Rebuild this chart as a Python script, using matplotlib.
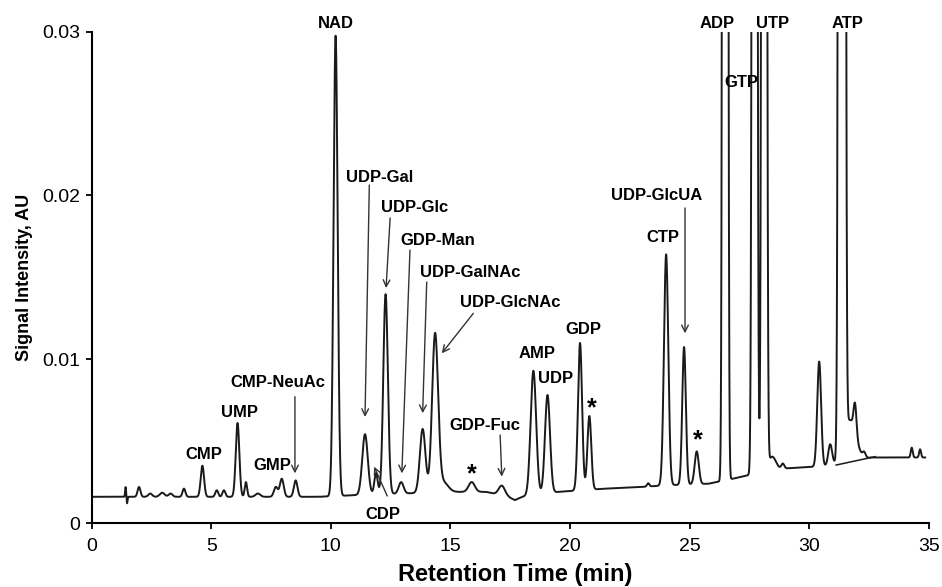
import numpy as np
import matplotlib
matplotlib.use("Agg")
import matplotlib.pyplot as plt

plt.rcParams['font.family'] = ['Liberation Sans', 'DejaVu Sans']

# retention time (min), height above baseline (AU), peak width sigma (min)
peak_time = [1.42, 1.48, 1.98, 2.45, 2.95, 3.30, 3.86, 4.63, 5.23, 5.53,
             6.10, 6.45, 6.95, 7.70, 7.95, 8.53,
             10.20, 11.43, 11.89, 12.29, 12.94, 13.84, 14.36, 14.70,
             15.89, 17.15, 18.47, 19.06, 20.42, 20.81,
             23.27, 24.02, 24.77, 25.30, 26.49, 27.72, 28.12, 28.45, 28.90,
             30.42, 30.88, 31.37, 31.70, 31.92, 32.30, 34.29, 34.64]
peak_height = [0.0006, -0.0004, 0.0006, 0.0002, 0.00025, 0.0002, 0.0005, 0.0019, 0.0004, 0.0004,
               0.0045, 0.0009, 0.0002, 0.0006, 0.0011, 0.0010,
               0.0281, 0.0037, 0.0013, 0.0122, 0.0007, 0.0039, 0.0096, 0.0006,
               0.0006, 0.0006, 0.0076, 0.0060, 0.0090, 0.0045,
               0.0002, 0.0141, 0.0084, 0.0020, 0.60, 0.30, 0.30, 0.0008, 0.0003,
               0.0064, 0.0013, 0.80, 0.0025, 0.0018, 0.0003, 0.0006, 0.0005]
peak_sigma = [0.02, 0.02, 0.06, 0.08, 0.10, 0.08, 0.06, 0.07, 0.06, 0.06,
              0.075, 0.05, 0.10, 0.08, 0.08, 0.075,
              0.085, 0.115, 0.07, 0.095, 0.10, 0.115, 0.125, 0.20,
              0.13, 0.13, 0.115, 0.105, 0.085, 0.08,
              0.05, 0.09, 0.075, 0.085, 0.058, 0.062, 0.062, 0.15, 0.06,
              0.08, 0.08, 0.07, 0.25, 0.06, 0.06, 0.04, 0.04]

# drifting detector baseline
base_time = [0, 9.5, 11.0, 15.0, 16.5, 17.4, 17.7, 18.0, 19.5, 21.5, 23.0,
             24.0, 25.8, 26.8, 27.4, 28.6, 29.8, 30.9, 31.4, 32.6, 34.85]
base_level = [0.0016, 0.0016, 0.0017, 0.0019, 0.0019, 0.0016, 0.0014, 0.0016, 0.0019, 0.0021, 0.0022,
              0.0023, 0.0024, 0.0027, 0.0029, 0.0033, 0.0034, 0.0035, 0.0037, 0.0040, 0.0040]

# manual integration baseline drawn under ATP
atp_base_time = [31.13, 32.76]
atp_base_level = [0.00354, 0.00405]

# peak labels: text, time, signal
labels = [("CMP", 4.70, 0.00421), ("UMP", 6.20, 0.00673), ("GMP", 7.54, 0.00350),
          ("CMP-NeuAc", 7.79, 0.00860), ("NAD", 10.22, 0.0305), ("UDP-Gal", 12.02, 0.02112),
          ("UDP-Glc", 13.52, 0.01923), ("GDP-Man", 14.48, 0.01727), ("UDP-GalNAc", 15.82, 0.01532),
          ("UDP-GlcNAc", 17.49, 0.01343), ("CDP", 12.18, 0.00049), ("GDP-Fuc", 16.45, 0.00598),
          ("AMP", 18.62, 0.01036), ("UDP", 19.38, 0.00885), ("GDP", 20.55, 0.01184),
          ("UDP-GlcUA", 23.64, 0.02002), ("CTP", 23.89, 0.01740), ("ADP", 26.15, 0.0305),
          ("GTP", 27.16, 0.02686), ("UTP", 28.45, 0.0305), ("ATP", 31.59, 0.0305)]
stars = [(15.89, 0.00300), (20.91, 0.00700), (25.33, 0.00505)]

# arrows: (start time, start signal) -> (tip time, tip signal)
arrows = [((8.50, 0.00771), (8.50, 0.00303)), ((11.61, 0.02063), (11.43, 0.00647)),
          ((12.48, 0.01862), (12.31, 0.01434)), ((13.31, 0.01666), (12.97, 0.00303)),
          ((14.01, 0.01471), (13.84, 0.00670)), ((15.96, 0.01280), (14.64, 0.01036)),
          ((12.36, 0.00165), (11.81, 0.00344)), ((17.08, 0.00537), (17.15, 0.00283)),
          ((24.81, 0.01923), (24.81, 0.01158))]

t = np.linspace(0, 34.85, 8000)
signal = np.interp(t, base_time, base_level)
for p, h, s in zip(peak_time, peak_height, peak_sigma):
    signal += h * np.exp(-0.5 * ((t - p) / s) ** 2)

fig = plt.figure(figsize=(9.42, 5.87), dpi=100)
ax = fig.add_axes([0.0973, 0.1090, 0.8886, 0.8373])

ax.plot(t, signal, color='#1a1a1a', linewidth=1.4)
ax.plot(atp_base_time, atp_base_level, color='#1a1a1a', linewidth=1.1)

for txt, x, y in labels:
    ax.text(x, y, txt, ha='center', va='center', fontsize=12, fontweight='bold', clip_on=False)
for x, y in stars:
    ax.text(x, y, "*", ha='center', va='center', fontsize=18, fontweight='bold')
for start, tip in arrows:
    ax.annotate('', xy=tip, xytext=start,
                arrowprops=dict(arrowstyle='->', color='#333333', lw=1.0,
                                shrinkA=0, shrinkB=0, mutation_scale=12))

ax.set_xlim(0, 35)
ax.set_ylim(0, 0.03)
ax.set_xticks(range(0, 36, 5))
ax.set_yticks([0, 0.01, 0.02, 0.03])
ax.set_yticklabels(["0", "0.01", "0.02", "0.03"])
ax.spines['top'].set_visible(False)
ax.spines['right'].set_visible(False)
for sp in ('left', 'bottom'):
    ax.spines[sp].set_linewidth(1.5)
ax.tick_params(direction='out', length=4, width=1.3, labelsize=14)
ax.tick_params(axis='x', pad=7)
ax.tick_params(axis='y', pad=4)

ax.set_xlabel("Retention Time (min)", fontsize=17, fontweight='bold', va='center')
ax.set_ylabel("Signal Intensity, AU", fontsize=13, fontweight='bold', va='center')
ax.xaxis.set_label_coords(0.506, -0.1057)
ax.yaxis.set_label_coords(-0.0800, 0.5)

fig.savefig("out.png", dpi=100)
